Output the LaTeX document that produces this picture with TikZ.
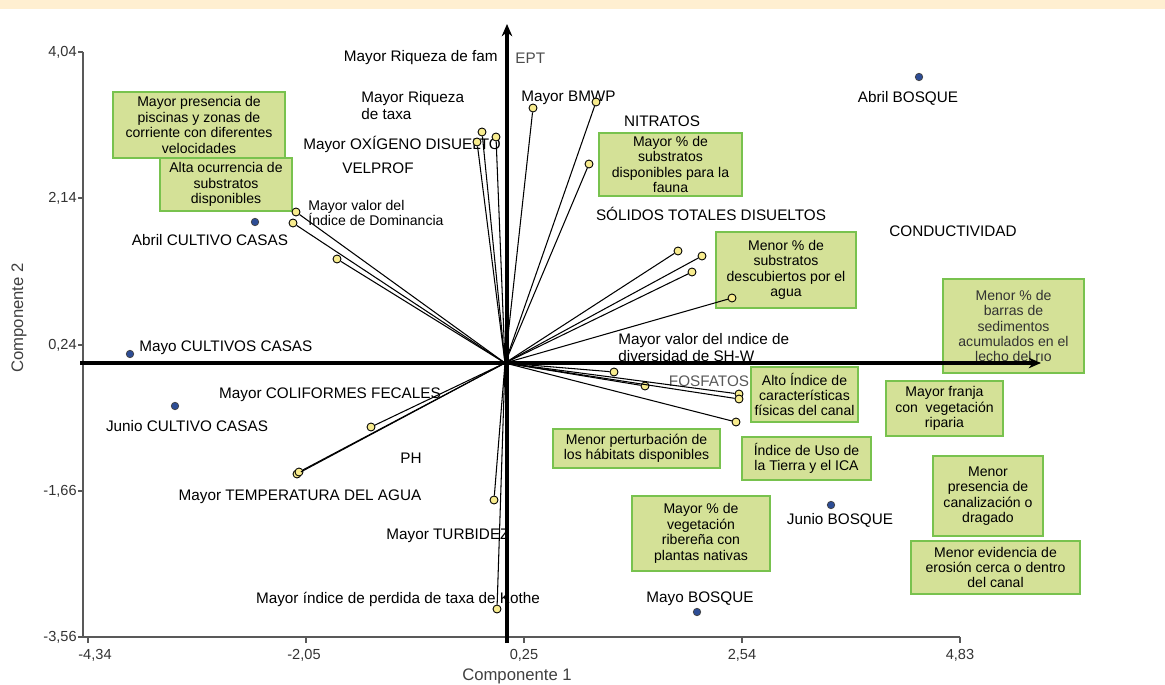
\documentclass[tikz,border=0pt]{standalone}
\usepackage{fontspec}
\setmainfont{Liberation Sans}
\usetikzlibrary{arrows.meta}
\definecolor{boxfill}{HTML}{D4E197}
\definecolor{boxline}{HTML}{78C24E}
\definecolor{tipyellow}{HTML}{F8EC8E}
\definecolor{siteblue}{HTML}{2D4D95}
\definecolor{band}{HTML}{FFEFD1}
\tikzstyle{box} = [rectangle, draw=boxline, fill=boxfill, line width=0.8pt, align=center, inner sep=0pt, font=\fontsize{8}{8.8}\selectfont]
\tikzstyle{lbl} = [inner sep=0pt, align=left, font=\fontsize{8.7}{9.7}\selectfont]
\tikzstyle{small} = [inner sep=0pt, align=left, font=\fontsize{8}{8.8}\selectfont]
\tikzstyle{ticklbl} = [inner sep=0pt, text=black!80, font=\fontsize{8.3}{9}\selectfont]
\tikzstyle{vtip} = [circle, draw=black, fill=tipyellow, line width=0.5pt, inner sep=0pt, minimum size=0.16cm]
\tikzstyle{site} = [circle, draw=black!75, fill=siteblue, line width=0.4pt, inner sep=0pt, minimum size=0.15cm]
\tikzstyle{vec} = [line width=0.6pt]
\tikzstyle{frameline} = [draw=black!65, line width=0.7pt]
\tikzstyle{bigaxis} = [line width=2pt, -{Stealth[length=7pt,width=6pt]}]

\begin{document}
\begin{tikzpicture}[x=0.02cm, y=-0.02cm]
\useasboundingbox (0,0) rectangle (1165,685);
\fill [band] (0,0) rectangle (1165,9);

% frame and ticks
\draw [frameline] (83,52) -- (83,637) -- (960,637);
\draw [frameline] (78,52) -- (83,52) (78,198) -- (83,198) (78,345) -- (83,345) (78,491) -- (83,491) (78,637) -- (83,637);
\draw [frameline] (88,637) -- (88,643) (306,637) -- (306,643) (524,637) -- (524,643) (742,637) -- (742,643) (960,637) -- (960,643);
\node (ty1) [ticklbl, anchor=east] at (77,52) {4,04};
\node (ty2) [ticklbl, anchor=east] at (77,198) {2,14};
\node (ty3) [ticklbl, anchor=east] at (77,345) {0,24};
\node (ty4) [ticklbl, anchor=east] at (77,491) {-1,66};
\node (ty5) [ticklbl, anchor=east] at (77,637) {-3,56};
\node (tx1) [ticklbl] at (95,655) {-4,34};
\node (tx2) [ticklbl] at (304,655) {-2,05};
\node (tx3) [ticklbl] at (524,655) {0,25};
\node (tx4) [ticklbl] at (742,655) {2,54};
\node (tx5) [ticklbl] at (960,655) {4,83};
\node (xname) [inner sep=0pt, text=black!75, font=\fontsize{9.5}{11}\selectfont] at (517,676) {Componente 1};
\node (yname) [inner sep=0pt, text=black!75, rotate=90, font=\fontsize{9.5}{11}\selectfont] at (19,318) {Componente 2};

% green boxes
\node (bpisc) [box, minimum width=3.44cm, minimum height=1.32cm] at (199,125) {Mayor presencia de\\piscinas y zonas de\\corriente con diferentes\\velocidades};
\node (balta) [box, minimum width=2.64cm, minimum height=1.06cm] at (226,184.5) {Alta ocurrencia de\\substratos\\disponibles};
\node (bfauna) [box, minimum width=2.86cm, minimum height=1.26cm] at (670.5,164.5) {Mayor \% de\\substratos\\disponibles para la\\fauna};
\node (bagua) [box, minimum width=2.8cm, minimum height=1.52cm] at (786,270) {Menor \% de\\substratos\\descubiertos por el\\agua};
\node (bbarras) [box, minimum width=2.82cm, minimum height=1.88cm, text=black!80] at (1013.5,326) {Menor \% de\\barras de\\sedimentos\\acumulados en el\\lecho del rıo};
\node (bcanal) [box, minimum width=2.14cm, minimum height=1.1cm] at (804.5,394.5) {Alto Índice de\\características\\físicas del canal};
\node (bfranja) [box, minimum width=2.34cm, minimum height=1.1cm] at (944.5,408.5) {Mayor franja\\con~ vegetación\\riparia};
\node (bpert) [box, minimum width=3.34cm, minimum height=0.78cm] at (636.5,448.5) {Menor perturbación de\\los hábitats disponibles};
\node (buso) [box, minimum width=2.58cm, minimum height=0.86cm] at (806.5,458.5) {Índice de Uso de\\la Tierra y el ICA};
\node (bdrag) [box, minimum width=2.2cm, minimum height=1.6cm] at (988,496) {Menor\\presencia de\\canalización o\\dragado};
\node (bribe) [box, minimum width=2.76cm, minimum height=1.5cm] at (701,533.5) {Mayor \% de\\vegetación\\ribereña con\\plantas nativas};
\node (beros) [box, minimum width=3.38cm, minimum height=1.06cm] at (995.5,567.5) {Menor evidencia de\\erosión cerca o dentro\\del canal};

% variable labels
\node (lfam) [lbl, anchor=east] at (498,58) {Mayor Riqueza de fam};
\node (lept) [lbl, anchor=west, text=black!70] at (515,58) {EPT};
\node (ltaxa) [lbl, anchor=west] at (361,106) {Mayor Riqueza\\de taxa};
\node (loxig) [lbl, anchor=west] at (303,144) {Mayor OXÍGENO DISUELTO};
\node (lvel) [lbl] at (378,168) {VELPROF};
\node (ldom) [small, anchor=west] at (308,213) {Mayor valor del\\Índice de Dominancia};
\node (lbmwp) [lbl, anchor=west] at (521,98) {Mayor BMWP};
\node (lnitr) [lbl] at (662,121) {NITRATOS};
\node (lsol) [lbl] at (711,214) {SÓLIDOS TOTALES DISUELTOS};
\node (lcond) [lbl] at (953,231) {CONDUCTIVIDAD};
\node (lshw) [lbl, anchor=west] at (618,348) {Mayor valor del ındice de\\diversidad de SH-W};
\node (lfos) [lbl, text=black!65] at (709,381) {FOSFATOS};
\node (lcoli) [lbl] at (330,395) {Mayor COLIFORMES FECALES};
\node (lph) [lbl] at (411,458) {PH};
\node (ltemp) [lbl] at (300,497) {Mayor TEMPERATURA DEL AGUA};
\node (lturb) [lbl] at (448,536) {Mayor TURBIDEZ};
\node (lkothe) [lbl] at (398,599) {Mayor índice de perdida de taxa de Kothe};

% sites
\node (sabrilB) [site] at (919,77) {};
\node (sabrilC) [site] at (255,222) {};
\node (smayoC) [site] at (130,354) {};
\node (sjunioC) [site] at (175,406) {};
\node (sjunioB) [site] at (831,505) {};
\node (smayoB) [site] at (697,612) {};
\node (labrilB) [lbl] at (908,98) {Abril BOSQUE};
\node (labrilC) [lbl] at (210,240) {Abril CULTIVO CASAS};
\node (lmayoC) [lbl, anchor=west] at (139,348) {Mayo CULTIVOS CASAS};
\node (ljunioC) [lbl] at (187,426) {Junio CULTIVO CASAS};
\node (ljunioB) [lbl] at (840,520) {Junio BOSQUE};
\node (lmayoB) [lbl] at (700,599) {Mayo BOSQUE};

% vectors
\coordinate (o) at (505,363);
\node (domA) [vtip] at (296,212) {};
\node (domB) [vtip] at (293,223) {};
\node (domC) [vtip] at (337,259) {};
\node (taxA) [vtip] at (482,132) {};
\node (oxig) [vtip] at (477,142) {};
\node (taxB) [vtip] at (496,137) {};
\node (eptv) [vtip] at (533,108) {};
\node (bmwp) [vtip] at (596,102) {};
\node (nitr) [vtip] at (589,164) {};
\node (solA) [vtip] at (678,251) {};
\node (solB) [vtip] at (702,256) {};
\node (solC) [vtip] at (692,272) {};
\node (cond) [vtip] at (732,298) {};
\node (shw) [vtip] at (614,372) {};
\node (fosA) [vtip] at (645,386) {};
\node (fosB) [vtip] at (739,394) {};
\node (fosC) [vtip] at (739,399) {};
\node (usov) [vtip] at (736,422) {};
\node (coli) [vtip] at (371,427) {};
\node (tempA) [vtip] at (297,474) {};
\node (tempB) [vtip] at (299,472) {};
\node (turb) [vtip] at (494,500) {};
\node (kothe) [vtip] at (497,609) {};

\draw [vec] (o) -- (domA);
\draw [vec] (o) -- (domB);
\draw [vec] (o) -- (domC);
\draw [vec] (o) -- (taxA);
\draw [vec] (o) -- (oxig);
\draw [vec] (o) -- (taxB);
\draw [vec] (o) -- (eptv);
\draw [vec] (o) -- (bmwp);
\draw [vec] (o) -- (nitr);
\draw [vec] (o) -- (solA);
\draw [vec] (o) -- (solB);
\draw [vec] (o) -- (solC);
\draw [vec] (o) -- (cond);
\draw [vec] (o) -- (shw);
\draw [vec] (o) -- (fosA);
\draw [vec] (o) -- (fosB);
\draw [vec] (o) -- (fosC);
\draw [vec] (o) -- (usov);
\draw [vec] (o) -- (coli);
\draw [vec] (o) -- (tempA);
\draw [vec] (o) -- (tempB);
\draw [vec] (o) -- (turb);
\draw [vec] (o) -- (kothe);

% main axes
\coordinate (xa) at (80,363);
\coordinate (xb) at (1041,363);
\coordinate (ya) at (507,643);
\coordinate (yb) at (507,24);
\draw [bigaxis] (xa) -- (xb);
\draw [bigaxis] (ya) -- (yb);

\end{tikzpicture}
\end{document}
